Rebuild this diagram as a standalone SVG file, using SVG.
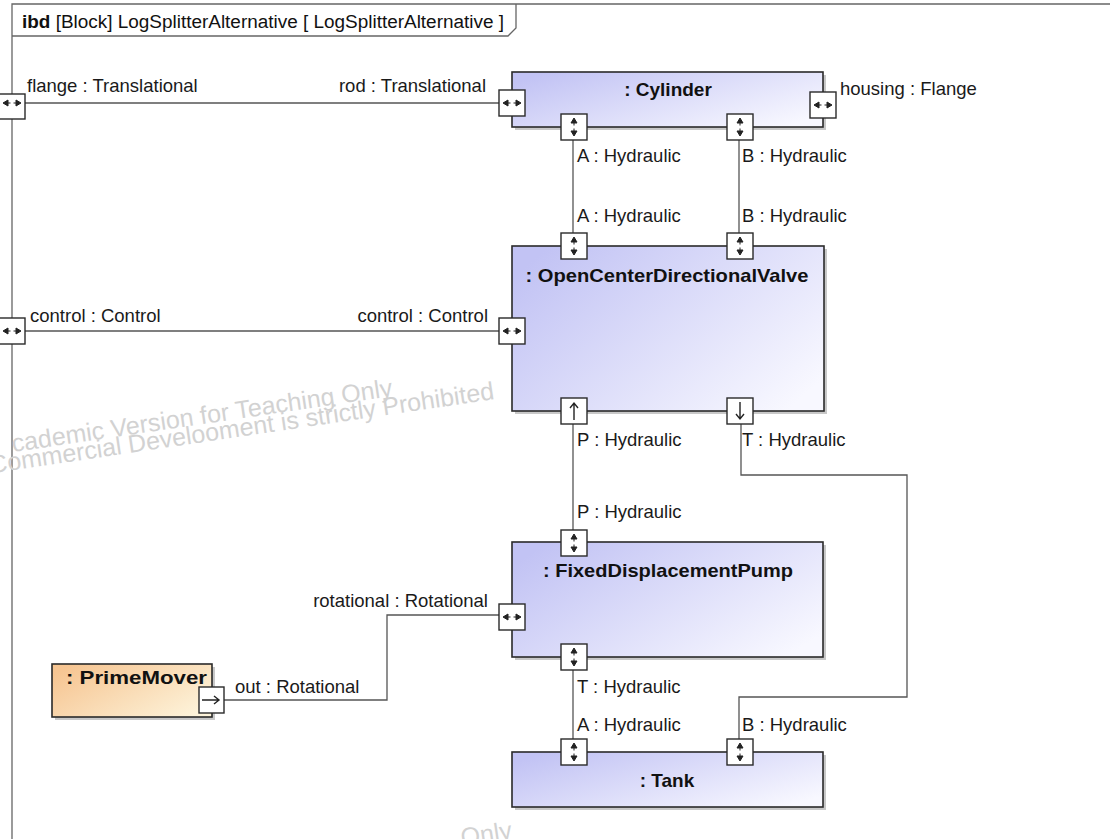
<svg xmlns="http://www.w3.org/2000/svg" width="1110" height="839" viewBox="0 0 1110 839">
  <style>
    .frame { fill: none; stroke: #666; stroke-width: 1.3; }
    .blk { stroke: #2a2a2a; stroke-width: 1.6; }
    .shadow { fill: #9a9a9a; opacity: 0.55; }
    .port { fill: #fff; stroke: #2a2a2a; stroke-width: 1.4; }
    .glyph { fill: #222; stroke: #222; stroke-width: 1; }
    .arr { fill: none; stroke: #222; stroke-width: 1.4; }
    .wire { fill: none; stroke: #555; stroke-width: 1.3; }
    .lbl { font-family: "Liberation Sans", Arial, sans-serif; font-size: 18.5px; fill: #1a1a1a; }
    .ttl { font-family: "Liberation Sans", Arial, sans-serif; font-size: 19px; font-weight: bold; fill: #111; }
    .hdr { font-family: "Liberation Sans", Arial, sans-serif; font-size: 18px; fill: #111; }
    .wm { font-family: "Liberation Sans", Arial, sans-serif; font-size: 25px; fill: #d2d2d2; }
  </style>
  <defs>
    <linearGradient id="blue" x1="0" y1="0.2" x2="1" y2="0.8">
      <stop offset="0" stop-color="#c2c3f4"/>
      <stop offset="1" stop-color="#f8f8ff"/>
    </linearGradient>
    <linearGradient id="orange" x1="0" y1="0.2" x2="1" y2="0.8">
      <stop offset="0" stop-color="#f6c592"/>
      <stop offset="1" stop-color="#fdf3da"/>
    </linearGradient>
    <!-- bidirectional flow glyph, horizontal -->
    <g id="gH">
      <path class="glyph" d="M-9,0 L-4,-3 L-4,3 Z M9,0 L4,-3 L4,3 Z"/>
      <path class="glyph" d="M-4,0 H-1.5 M1.5,0 H4"/>
    </g>
    <!-- bidirectional flow glyph, vertical -->
    <g id="gV">
      <path class="glyph" d="M0,-9 L-3,-4 L3,-4 Z M0,9 L-3,4 L3,4 Z"/>
      <path class="glyph" d="M0,-4 V-1.5 M0,1.5 V4"/>
    </g>
    <!-- directed flow glyphs -->
    <path id="gUp" class="arr" d="M0,9 V-8 M-4,-3 L0,-8 L4,-3"/>
    <path id="gDown" class="arr" d="M0,-9 V8 M-4,3 L0,8 L4,3"/>
    <path id="gRight" class="arr" d="M-9,0 H8 M3,-4 L8,0 L3,4"/>
  </defs>

  <rect width="1110" height="839" fill="#fff"/>

  <!-- diagram frame and heading tab -->
  <g id="frame">
    <path class="frame" d="M12,839 V4 H1110"/>
    <path class="frame" d="M516,4 V28 L508,36 H12"/>
    <text class="hdr" x="22" y="28" textLength="482" lengthAdjust="spacingAndGlyphs"><tspan font-weight="bold">ibd</tspan> [Block] LogSplitterAlternative [ LogSplitterAlternative ]</text>
  </g>

  <!-- watermark -->
  <g id="watermark">
    <text class="wm" x="13" y="452" transform="rotate(-8.4 13 452)">cademic Version for Teaching Only</text>
    <text class="wm" x="495" y="399" text-anchor="end" transform="rotate(-8.4 495 399)">Commercial Develooment is strictly Prohibited</text>
    <text class="wm" x="462" y="846" transform="rotate(-8.4 462 846)">Only</text>
  </g>

  <!-- connectors -->
  <g id="connectors">
    <path class="wire" d="M25,103 H499"/>
    <path class="wire" d="M25,331 H499"/>
    <path class="wire" d="M573,140 V233"/>
    <path class="wire" d="M739,140 V233"/>
    <path class="wire" d="M573,424 V530"/>
    <path class="wire" d="M741,424 V475 H907 V697 H739 V739"/>
    <path class="wire" d="M573,670 V739"/>
    <path class="wire" d="M224,700 H387 V615 H499"/>
  </g>

  <!-- boundary ports on the frame -->
  <g id="port-flange">
    <rect class="port" x="-1" y="94" width="26" height="25"/>
    <use href="#gH" x="12" y="103"/>
    <text class="lbl" x="27" y="92">flange : Translational</text>
  </g>
  <g id="port-control">
    <rect class="port" x="-1" y="318" width="26" height="26"/>
    <use href="#gH" x="12" y="331"/>
    <text class="lbl" x="30" y="322">control : Control</text>
  </g>

  <!-- : Cylinder -->
  <g id="cylinder">
    <rect class="shadow" x="515" y="75" width="311" height="55"/>
    <rect class="blk" x="512" y="72" width="311" height="55" fill="url(#blue)"/>
    <text class="ttl" x="668" y="96" text-anchor="middle">: Cylinder</text>
    <rect class="port" x="499" y="90" width="26" height="26"/>
    <use href="#gH" x="512" y="103"/>
    <text class="lbl" x="486" y="92" text-anchor="end">rod : Translational</text>
    <rect class="port" x="810" y="92" width="26" height="26"/>
    <use href="#gH" x="823" y="105"/>
    <text class="lbl" x="840" y="95">housing : Flange</text>
    <rect class="port" x="561" y="114" width="26" height="26"/>
    <use href="#gV" x="574" y="127"/>
    <text class="lbl" x="577" y="162">A : Hydraulic</text>
    <rect class="port" x="727" y="114" width="26" height="26"/>
    <use href="#gV" x="740" y="127"/>
    <text class="lbl" x="742" y="162">B : Hydraulic</text>
  </g>

  <!-- : OpenCenterDirectionalValve -->
  <g id="valve">
    <rect class="shadow" x="515" y="249" width="312" height="165"/>
    <rect class="blk" x="512" y="246" width="312" height="165" fill="url(#blue)"/>
    <text class="ttl" x="667" y="282" text-anchor="middle" textLength="283" lengthAdjust="spacingAndGlyphs">: OpenCenterDirectionalValve</text>
    <rect class="port" x="561" y="233" width="26" height="26"/>
    <use href="#gV" x="574" y="246"/>
    <text class="lbl" x="577" y="222">A : Hydraulic</text>
    <rect class="port" x="727" y="233" width="26" height="26"/>
    <use href="#gV" x="740" y="246"/>
    <text class="lbl" x="742" y="222">B : Hydraulic</text>
    <rect class="port" x="499" y="318" width="26" height="26"/>
    <use href="#gH" x="512" y="331"/>
    <text class="lbl" x="488" y="322" text-anchor="end">control : Control</text>
    <rect class="port" x="561" y="398" width="26" height="26"/>
    <use href="#gUp" x="574" y="411"/>
    <text class="lbl" x="577" y="446">P : Hydraulic</text>
    <rect class="port" x="727" y="398" width="26" height="26"/>
    <use href="#gDown" x="740" y="411"/>
    <text class="lbl" x="742" y="446">T : Hydraulic</text>
  </g>

  <!-- : FixedDisplacementPump -->
  <g id="pump">
    <rect class="shadow" x="515" y="545" width="311" height="115"/>
    <rect class="blk" x="512" y="542" width="311" height="115" fill="url(#blue)"/>
    <text class="ttl" x="668" y="577" text-anchor="middle" textLength="250" lengthAdjust="spacingAndGlyphs">: FixedDisplacementPump</text>
    <rect class="port" x="561" y="530" width="26" height="26"/>
    <use href="#gV" x="574" y="543"/>
    <text class="lbl" x="577" y="518">P : Hydraulic</text>
    <rect class="port" x="499" y="604" width="26" height="26"/>
    <use href="#gH" x="512" y="617"/>
    <text class="lbl" x="488" y="607" text-anchor="end">rotational : Rotational</text>
    <rect class="port" x="561" y="644" width="26" height="26"/>
    <use href="#gV" x="574" y="657"/>
    <text class="lbl" x="577" y="693">T : Hydraulic</text>
  </g>

  <!-- : PrimeMover -->
  <g id="primemover">
    <rect class="shadow" x="55" y="667" width="160" height="53"/>
    <rect class="blk" x="52" y="664" width="160" height="53" fill="url(#orange)"/>
    <text class="ttl" x="66" y="684" textLength="141" lengthAdjust="spacingAndGlyphs">: PrimeMover</text>
    <rect class="port" x="199" y="687" width="25" height="26"/>
    <use href="#gRight" x="211" y="700"/>
    <text class="lbl" x="235" y="693">out : Rotational</text>
  </g>

  <!-- : Tank -->
  <g id="tank">
    <rect class="shadow" x="515" y="755" width="311" height="55"/>
    <rect class="blk" x="512" y="752" width="311" height="55" fill="url(#blue)"/>
    <text class="ttl" x="667" y="787" text-anchor="middle">: Tank</text>
    <rect class="port" x="561" y="739" width="26" height="26"/>
    <use href="#gV" x="574" y="752"/>
    <text class="lbl" x="577" y="731">A : Hydraulic</text>
    <rect class="port" x="727" y="739" width="26" height="26"/>
    <use href="#gV" x="740" y="752"/>
    <text class="lbl" x="742" y="731">B : Hydraulic</text>
  </g>
</svg>
